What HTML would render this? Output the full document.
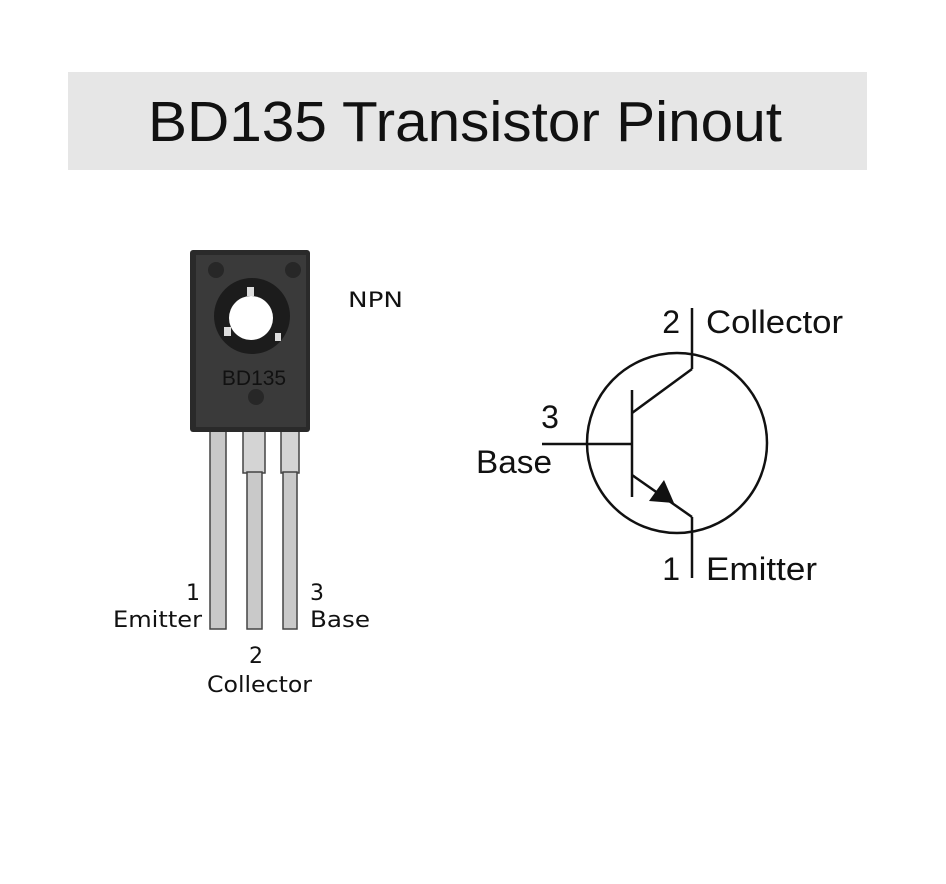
<!DOCTYPE html>
<html><head><style>
body{margin:0;background:#fff;}
svg{display:block}
text{font-family:"DejaVu Sans","Liberation Sans",sans-serif;fill:#111}
.a{font-family:"Liberation Sans",sans-serif}
</style></head><body>
<svg width="946" height="884" viewBox="0 0 946 884" xmlns="http://www.w3.org/2000/svg">
<rect x="68" y="72" width="799" height="98" fill="#e6e6e6"/>
<text class="a" x="465" y="141" font-size="57" text-anchor="middle" textLength="634" lengthAdjust="spacingAndGlyphs">BD135 Transistor Pinout</text>

<rect x="210" y="425" width="16" height="204" fill="#c9c9c9" stroke="#444" stroke-width="1.5"/>
<rect x="243" y="425" width="22" height="48" fill="#d4d4d4" stroke="#444" stroke-width="1.5"/>
<rect x="247" y="472" width="15" height="157" fill="#c9c9c9" stroke="#444" stroke-width="1.5"/>
<rect x="281" y="425" width="18" height="48" fill="#d4d4d4" stroke="#444" stroke-width="1.5"/>
<rect x="283" y="472" width="14" height="157" fill="#c9c9c9" stroke="#444" stroke-width="1.5"/>

<rect x="190" y="250" width="120" height="182" rx="3" fill="#2a2a2a"/>
<rect x="196" y="255" width="110" height="172" fill="#3a3a3a"/>
<circle cx="216" cy="270" r="8" fill="#272727"/>
<circle cx="293" cy="270" r="8" fill="#272727"/>
<circle cx="256" cy="397" r="8" fill="#272727"/>
<circle cx="252" cy="316" r="38" fill="#1c1c1c"/>
<circle cx="251" cy="318" r="22" fill="#fff"/>
<rect x="247" y="287" width="7" height="9" fill="#ddd"/>
<rect x="224" y="327" width="7" height="9" fill="#ddd"/>
<rect x="275" y="333" width="6" height="8" fill="#ddd"/>
<text class="a" x="254" y="385" font-size="21" text-anchor="middle">BD135</text>

<text x="348" y="307" font-size="21" textLength="55" lengthAdjust="spacingAndGlyphs">NPN</text>

<text x="200" y="600" font-size="22" text-anchor="end">1</text>
<text x="113" y="627" font-size="22" textLength="89" lengthAdjust="spacingAndGlyphs">Emitter</text>
<text x="310" y="600" font-size="22">3</text>
<text x="310" y="627" font-size="22" textLength="60" lengthAdjust="spacingAndGlyphs">Base</text>
<text x="256" y="663" font-size="22" text-anchor="middle">2</text>
<text x="207" y="692" font-size="22" textLength="105" lengthAdjust="spacingAndGlyphs">Collector</text>

<g stroke="#111" stroke-width="2.5" fill="none">
<circle cx="677" cy="443" r="90"/>
<line x1="692" y1="308" x2="692" y2="369"/>
<line x1="692" y1="517" x2="692" y2="578"/>
<line x1="632" y1="390" x2="632" y2="497"/>
<line x1="542" y1="444" x2="632" y2="444"/>
<line x1="632" y1="413" x2="692" y2="369"/>
<line x1="632" y1="475" x2="692" y2="517"/>
</g>
<polygon points="649,501 674,503 664,480" fill="#111"/>
<text class="a" x="680" y="333" font-size="32" text-anchor="end">2</text>
<text class="a" x="706" y="333" font-size="32" textLength="137" lengthAdjust="spacingAndGlyphs">Collector</text>
<text class="a" x="550" y="428" font-size="32" text-anchor="middle">3</text>
<text class="a" x="476" y="473" font-size="32" textLength="76" lengthAdjust="spacingAndGlyphs">Base</text>
<text class="a" x="680" y="580" font-size="32" text-anchor="end">1</text>
<text class="a" x="706" y="580" font-size="32" textLength="111" lengthAdjust="spacingAndGlyphs">Emitter</text>
</svg>
</body></html>
